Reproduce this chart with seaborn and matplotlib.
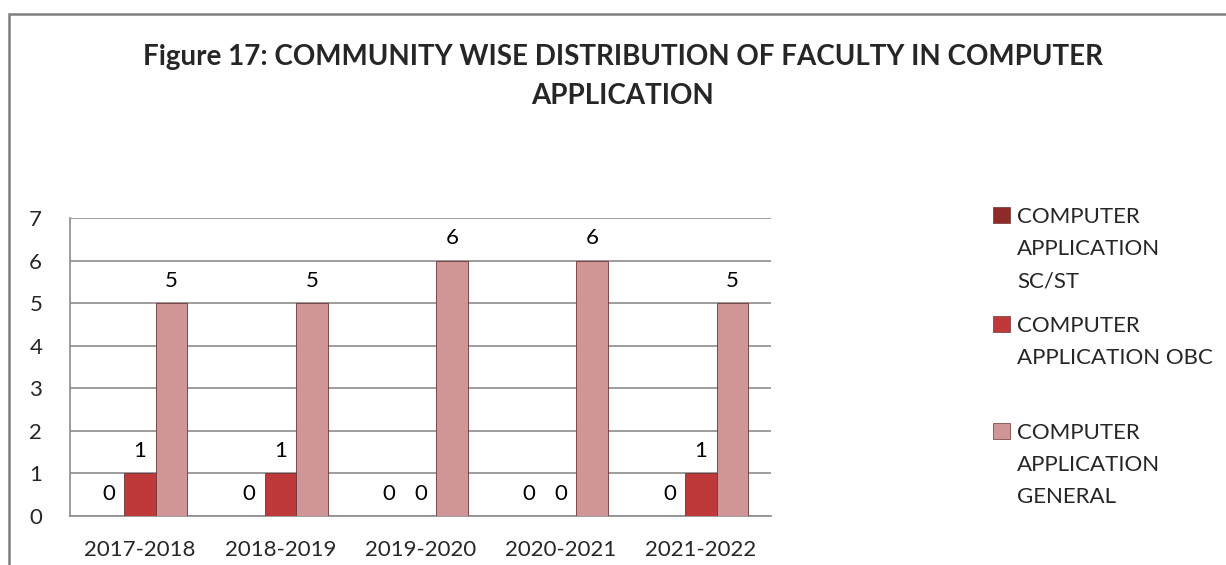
import matplotlib
matplotlib.use("Agg")
import matplotlib.pyplot as plt
import matplotlib.patches as mpatches
import pandas as pd
import seaborn as sns

# chart data
years = ['2017-2018', '2018-2019', '2019-2020', '2020-2021', '2021-2022']
series = ['COMPUTER\nAPPLICATION\nSC/ST',
          'COMPUTER\nAPPLICATION OBC',
          'COMPUTER\nAPPLICATION\nGENERAL']
sc_st = [0, 0, 0, 0, 0]
obc = [1, 1, 0, 0, 1]
general = [5, 5, 6, 6, 5]
y_ticks = [0, 1, 2, 3, 4, 5, 6, 7]
title_lines = ['Figure 17: COMMUNITY WISE DISTRIBUTION OF FACULTY IN COMPUTER',
               'APPLICATION']
colors = ['#8e2a28', '#c0393a', '#d09597']

W, H = 1226, 565


def fx(px):
    return px / W


def fy(py):
    return 1 - py / H


sns.set_style("white")
plt.rcParams['font.family'] = ['Lato', 'DejaVu Sans']

df = pd.DataFrame({
    'year': years * 3,
    'series': [s for s in series for _ in years],
    'value': sc_st + obc + general,
})

fig = plt.figure(figsize=(W / 100, H / 100), dpi=100)
ax = fig.add_axes([fx(70), fy(516), fx(771) - fx(70), fy(218) - fy(516)])

sns.barplot(data=df, x='year', y='value', hue='series', hue_order=series,
            palette=colors, width=0.675, saturation=1, legend=False,
            edgecolor='#6e3434', linewidth=0.6, ax=ax, zorder=3)

for c in ax.containers:
    ax.bar_label(c, padding=9, fontsize=16, color='black')

grey = '#8c8c8c'
ax.set_ylim(0, 7)
ax.set_yticks(y_ticks)
ax.set_xlim(-0.5, len(years) - 0.5)
ax.set_xticks([i - 0.5 for i in range(len(years) + 1)])
ax.set_xticklabels([])
ax.set_xticks(range(len(years)), minor=True)
ax.set_xticklabels(years, minor=True)
ax.tick_params(axis='x', which='major', length=8, width=1.2, color=grey, direction='out')
ax.tick_params(axis='x', which='minor', length=0, pad=17, labelsize=16)
ax.tick_params(axis='y', length=8, width=1.2, color=grey, pad=12, labelsize=16)
ax.set_xlabel('')
ax.set_ylabel('')
ax.yaxis.grid(True, color=grey, linewidth=1.2)
ax.set_axisbelow(True)
for side in ['top', 'right']:
    ax.spines[side].set_visible(False)
for side in ['left', 'bottom']:
    ax.spines[side].set_color(grey)
    ax.spines[side].set_linewidth(1.2)

# outer chart frame (right and bottom edges fall outside the picture)
fig.patches.append(mpatches.Rectangle((fx(9), -0.2), 1.2, fy(14) + 0.2,
                                      transform=fig.transFigure, fill=False,
                                      edgecolor='#7f7f7f', linewidth=1.8))

# title
for i, line in enumerate(title_lines):
    fig.text(fx(623), fy(65 + 39 * i), line, ha='center', va='baseline',
             fontsize=20, fontweight='bold')

# legend
baselines = [223, 332, 439]
for label, color, b in zip(series, colors, baselines):
    fig.patches.append(mpatches.Rectangle((fx(993), fy(b)), fx(17), 16 / H,
                                          transform=fig.transFigure,
                                          facecolor=color, edgecolor='#6e3434',
                                          linewidth=0.5))
    for j, line in enumerate(label.split('\n')):
        fig.text(fx(1017), fy(b + 32 * j), line, ha='left', va='baseline',
                 fontsize=16)

fig.savefig('out.png', dpi=100)
